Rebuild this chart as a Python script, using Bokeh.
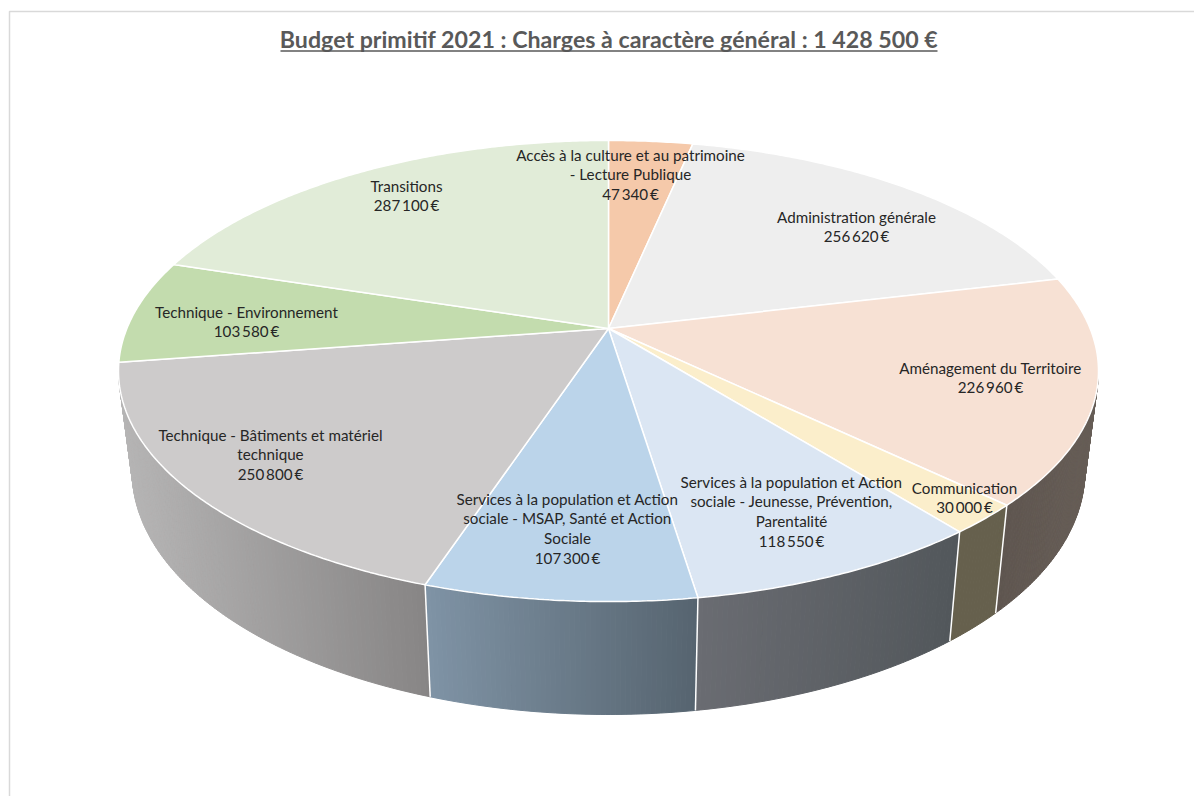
import math

from bokeh.core.properties import value
from bokeh.embed import file_html
from bokeh.models import Range1d
from bokeh.plotting import figure
from bokeh.resources import INLINE

TITLE = "Budget primitif 2021 : Charges à caractère général : 1 428 500 €"

# Budget lines, clockwise from twelve o'clock
amounts = [47340, 256620, 226960, 30000, 118550, 107300, 250800, 103580, 287100]
label_lines = [
    ["Accès à la culture et au patrimoine", "- Lecture Publique"],
    ["Administration générale"],
    ["Aménagement du Territoire"],
    ["Communication"],
    ["Services à la population et Action", "sociale - Jeunesse, Prévention,", "Parentalité"],
    ["Services à la population et Action", "sociale - MSAP, Santé et Action", "Sociale"],
    ["Technique - Bâtiments et matériel", "technique"],
    ["Technique - Environnement"],
    ["Transitions"],
]
top_colors = ["#f5c9aa", "#eeeeee", "#f7e1d4", "#fbeecb", "#dbe6f3",
              "#bbd4ea", "#cdcbcb", "#c3dcae", "#e1ecd8"]
# Side wall shading per slice: colour at its left end, colour at its right end
rim_left = ["#f5c9aa", "#eeeeee", "#5f5650", "#66604d", "#6a6c72",
            "#7f93a5", "#b6b5b5", "#a9b8a0", "#a9b8a0"]
rim_right = ["#f5c9aa", "#eeeeee", "#675e57", "#66604d", "#52575b",
             "#56646f", "#878585", "#a9b8a0", "#a9b8a0"]
label_x = [630, 856, 990, 964, 791, 567, 270, 246, 406]
label_y = [154, 216, 367, 487, 481, 498, 434, 311, 185]
LINE_STEP = 19.8

# Perspective projection of the pie disc onto the page
CX, CY = 608.0, 328.0
SCALE_X, SCALE_Y, TILT = 481.6, 222.7, 0.1844
# Mapping of the upper rim to the lower rim of the disc
BOTTOM_SX, BOTTOM_SY, BOTTOM_DY = 0.972, 1.054, 98.2


def top_point(deg, r=1.0):
    a = math.radians(deg)
    u, v = r * math.sin(a), r * math.cos(a)
    w = 1 + TILT * v
    return SCALE_X * u / w, -SCALE_Y * v / w


def page_top(deg):
    x, y = top_point(deg)
    return CX + x, CY + y


def page_bottom(deg):
    x, y = top_point(deg)
    return CX + BOTTOM_SX * x, CY + BOTTOM_SY * y + BOTTOM_DY


def hex_mix(c0, c1, t):
    a = [int(c0[i:i + 2], 16) for i in (1, 3, 5)]
    b = [int(c1[i:i + 2], 16) for i in (1, 3, 5)]
    return "#%02x%02x%02x" % tuple(round(p + (q - p) * t) for p, q in zip(a, b))


total = sum(amounts)
edges = [0.0]
for amount in amounts:
    edges.append(edges[-1] + 360.0 * amount / total)

p = figure(width=1194, height=796, output_backend="svg", toolbar_location=None,
           x_range=Range1d(0, 1194), y_range=Range1d(796, 0),
           x_axis_location=None, y_axis_location=None, min_border=0,
           outline_line_color=None, background_fill_color="white")
p.grid.visible = False

# Chart area frame (top and left edges)
p.line([9, 9, 1194], [796, 11, 11], line_color="#d9d9d9", line_width=1.5)

# Side wall: narrow strips shaded from left to right within each slice
rim_start = 90 + math.degrees(math.asin(TILT))
rim_end = 360 - rim_start
for i in range(len(amounts)):
    start, end = max(edges[i], rim_start), min(edges[i + 1], rim_end)
    if end <= start:
        continue
    n = max(2, int((end - start) * 2))
    xs, ys, fills = [], [], []
    x_right = page_top(start)[0]
    x_left = page_top(end)[0]
    for k in range(n):
        d0 = start + (end - start) * k / n
        d1 = start + (end - start) * (k + 1) / n
        t0, t1, b0, b1 = page_top(d0), page_top(d1), page_bottom(d0), page_bottom(d1)
        xs.append([t0[0], t1[0], b1[0], b0[0]])
        ys.append([t0[1], t1[1], b1[1], b0[1]])
        mid = (t0[0] + t1[0]) / 2
        fills.append(hex_mix(rim_left[i], rim_right[i], (mid - x_left) / max(x_right - x_left, 1)))
    p.patches(xs, ys, fill_color=fills, line_color=fills, line_width=1)

# White separators on the side wall
for deg in edges:
    if rim_start < deg < rim_end:
        t, b = page_top(deg), page_bottom(deg)
        p.line([t[0], b[0]], [t[1], b[1]], line_color="white", line_width=1.5)

# Top face slices
face_xs, face_ys = [], []
for i in range(len(amounts)):
    n = max(4, int((edges[i + 1] - edges[i]) * 2))
    arc = [page_top(edges[i] + (edges[i + 1] - edges[i]) * k / n) for k in range(n + 1)]
    face_xs.append([CX] + [q[0] for q in arc])
    face_ys.append([CY] + [q[1] for q in arc])
p.patches(face_xs, face_ys, fill_color=top_colors, line_color="white", line_width=1.5)

# Data labels: category lines followed by the amount
text_x, text_y, text_s = [], [], []
for i, lines in enumerate(label_lines):
    amount_text = f"{amounts[i]:,}".replace(",", "\u2009") + "\u2009€"
    for j, line in enumerate(lines + [amount_text]):
        text_x.append(label_x[i])
        text_y.append(label_y[i] + j * LINE_STEP)
        text_s.append(line)
p.text(text_x, text_y, text=text_s, text_align="center", text_baseline="middle",
       text_font=value("Lato"), text_font_size="15.2px", text_color="#262626")

# Underlined title
p.text([608.5], [38], text=[TITLE], text_align="center", text_baseline="middle",
       text_font=value("Lato"), text_font_style="bold", text_font_size="23.2px",
       text_color="#595959")
p.line([280, 937], [50.5, 50.5], line_color="#595959", line_width=1.5)

open("out.html", "w").write(file_html(p, INLINE))
